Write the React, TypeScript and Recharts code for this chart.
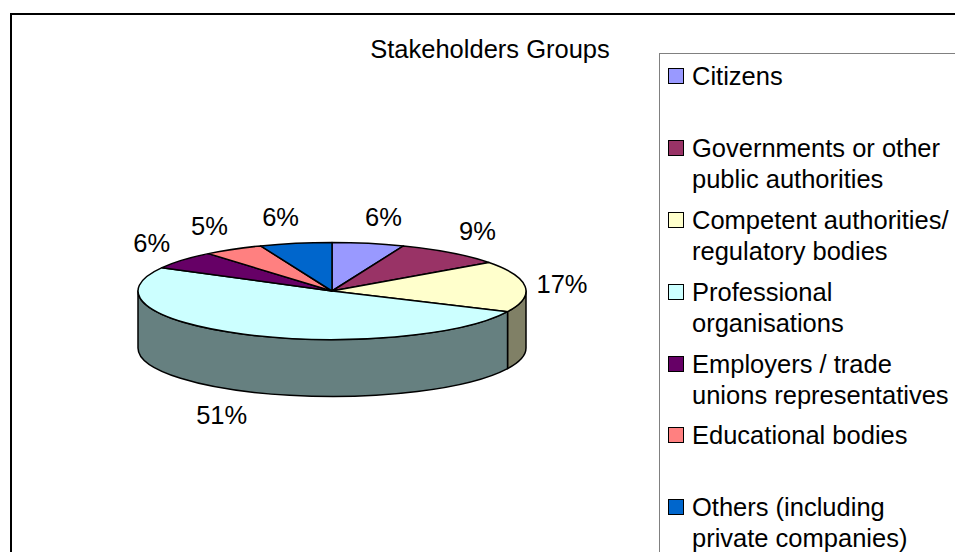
import React from 'react';
import { PieChart, Pie, Cell, Legend } from 'recharts';

const TITLE = 'Stakeholders Groups';
const CATEGORIES = [
  'Citizens',
  'Governments or other public authorities',
  'Competent authorities/ regulatory bodies',
  'Professional organisations',
  'Employers / trade unions representatives',
  'Educational bodies',
  'Others (including private companies)',
];
const VALUES = [6, 9, 17, 51, 6, 5, 6];
const COLORS = ['#9999FF', '#993366', '#FFFFCC', '#CCFFFF', '#660066', '#FF8080', '#0066CC'];
const SIDE_COLORS = ['#4D4D80', '#4D1A33', '#808066', '#668080', '#330033', '#804040', '#003366'];

const data = CATEGORIES.map((name, i) => ({ name, value: VALUES[i] }));

const FONT = '"Liberation Sans", Arial, sans-serif';
const TILT = 0.25;
const DEPTH = 57;
const RAD = Math.PI / 180;

function pt(cx: number, cy: number, rx: number, ry: number, a: number): [number, number] {
  return [cx + rx * Math.cos(a * RAD), cy - ry * Math.sin(a * RAD)];
}

function SliceShape(props: any) {
  const { cx, cy, outerRadius, startAngle, endAngle, midAngle, index, percent } = props;
  const rx = outerRadius;
  const ry = outerRadius * TILT;
  const s = Math.max(startAngle, endAngle);
  const e = Math.min(startAngle, endAngle);
  const [x1, y1] = pt(cx, cy, rx, ry, s);
  const [x2, y2] = pt(cx, cy, rx, ry, e);
  const large = s - e > 180 ? 1 : 0;
  const top = `M${cx},${cy} L${x1},${y1} A${rx},${ry} 0 ${large} 1 ${x2},${y2} Z`;
  let wall: string | null = null;
  const hi = Math.min(s, 0);
  const lo = Math.max(e, -180);
  if (hi > lo) {
    const [a1, b1] = pt(cx, cy, rx, ry, hi);
    const [a2, b2] = pt(cx, cy, rx, ry, lo);
    const lg = hi - lo > 180 ? 1 : 0;
    wall = `M${a1},${b1} A${rx},${ry} 0 ${lg} 1 ${a2},${b2} L${a2},${b2 + DEPTH} A${rx},${ry} 0 ${lg} 0 ${a1},${b1 + DEPTH} Z`;
  }
  const cs = Math.cos(midAngle * RAD);
  const sn = Math.sin(midAngle * RAD);
  const lx = cx + (rx + 27) * cs + 10 * Math.sign(cs);
  const ly = cy - (ry + 27) * sn + (sn < 0 ? DEPTH : 0);
  return (
    <g>
      {wall && (
        <path d={wall} fill={SIDE_COLORS[index]} stroke="#000" strokeWidth={1.5} strokeLinejoin="round" />
      )}
      <path d={top} fill={COLORS[index]} stroke="#000" strokeWidth={1.5} strokeLinejoin="round" />
      <text
        x={lx}
        y={ly}
        textAnchor="middle"
        dominantBaseline="central"
        fontFamily={FONT}
        fontSize={25.5}
        fill="#000"
      >
        {`${Math.round(percent * 100)}%`}
      </text>
    </g>
  );
}

function LegendContent(props: any) {
  const payload = props.payload || [];
  return (
    <div
      style={{
        position: 'relative',
        width: 400,
        height: 600,
        border: '1px solid #808080',
        boxSizing: 'border-box',
        background: '#fff',
      }}
    >
      {payload.map((p: any) => {
        const idx = CATEGORIES.indexOf(p.value);
        return (
          <div
            key={p.value}
            style={{ position: 'absolute', left: 8, top: 7.4 + 71.8 * idx, display: 'flex', alignItems: 'flex-start' }}
          >
            <div
              style={{
                width: 16,
                height: 16,
                marginTop: 7,
                border: '1px solid #000',
                boxSizing: 'border-box',
                background: COLORS[idx],
                flex: '0 0 auto',
              }}
            />
            <div
              style={{
                marginLeft: 8,
                width: 265,
                fontSize: 25.5,
                lineHeight: '31px',
                fontFamily: FONT,
                color: '#000',
              }}
            >
              {p.value}
            </div>
          </div>
        );
      })}
    </div>
  );
}

export default function App() {
  return (
    <div style={{ position: 'absolute', left: 0, top: 0, width: 955, height: 552, overflow: 'hidden', background: '#fff' }}>
      <svg width={955} height={552} style={{ position: 'absolute', left: 0, top: 0 }}>
        <rect x={11} y={14} width={1000} height={600} fill="#fff" stroke="#000" strokeWidth={2} />
        <text x={490} y={58} textAnchor="middle" fontFamily={FONT} fontSize={25.5} fill="#000">
          {TITLE}
        </text>
      </svg>
      <div style={{ position: 'absolute', left: 0, top: 0 }}>
        <PieChart width={955} height={552} margin={{ top: 0, right: 0, bottom: 0, left: 0 }}>
          <Pie
            data={data}
            dataKey="value"
            nameKey="name"
            cx={332}
            cy={291}
            outerRadius={194}
            startAngle={90}
            endAngle={-270}
            isAnimationActive={false}
            label={SliceShape}
            labelLine={false}
            stroke="none"
          >
            {data.map((d, i) => (
              <Cell key={d.name} fill={COLORS[i]} fillOpacity={0} strokeOpacity={0} />
            ))}
          </Pie>
          <Legend
            layout="vertical"
            align="right"
            verticalAlign="top"
            content={LegendContent}
            wrapperStyle={{ position: 'absolute', left: 659, top: 53, width: 400, height: 600 }}
          />
        </PieChart>
      </div>
    </div>
  );
}
